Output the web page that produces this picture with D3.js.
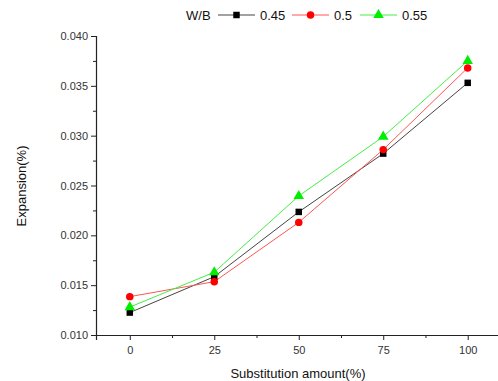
<!DOCTYPE html>
<html>
<head>
<meta charset="utf-8">
<script src="https://cdn.jsdelivr.net/npm/d3@7"></script>
<style>
  body { margin: 0; background: #fff; }
  svg { display: block; font-family: Arial, "Liberation Sans", sans-serif; }
</style>
</head>
<body>
<script>
// chart data
const substitution = [0, 25, 50, 75, 100];
const seriesNames = ['0.45', '0.5', '0.55'];
const wb045 = [0.01225, 0.01585, 0.02235, 0.0282, 0.0353];
const wb050 = [0.01385, 0.01535, 0.02130, 0.0286, 0.0368];
const wb055 = [0.01280, 0.01630, 0.02395, 0.0299, 0.0375];
const xTicks = [0, 25, 50, 75, 100];
const yTicks = [0.010, 0.015, 0.020, 0.025, 0.030, 0.035, 0.040];

const W = 498, H = 381;
const svg = d3.select('body').append('svg').attr('width', W).attr('height', H);

const x = d3.scaleLinear().domain([-10, 110]).range([96, 501.5]);
const y = d3.scaleLinear().domain([0.010, 0.040]).range([335, 36]);

// axes
const xAxis = d3.axisBottom(x).tickValues(xTicks).tickSize(5).tickPadding(6).tickFormat(d3.format('d'));
const xMinor = d3.axisBottom(x).tickValues([12.5, 37.5, 62.5, 87.5]).tickSize(3).tickFormat('');
const yAxis = d3.axisLeft(y).tickValues(yTicks).tickSize(5).tickPadding(3).tickFormat(d3.format('.3f'));
const yMinor = d3.axisLeft(y).tickValues([0.0125, 0.0175, 0.0225, 0.0275, 0.0325, 0.0375]).tickSize(3).tickFormat('');

function style(g) {
  g.select('.domain').attr('stroke', '#222').attr('stroke-width', 1.2);
  g.selectAll('.tick line').attr('stroke', '#222');
  g.selectAll('.tick text').attr('fill', '#333').style('font-size', '11px');
}

svg.append('g').attr('transform', 'translate(0,335)').call(xAxis).call(style);
svg.append('g').attr('transform', 'translate(0,335)').call(xMinor).call(g => g.select('.domain').remove()).call(style);
svg.append('g').attr('transform', 'translate(96,0)').call(yAxis).call(style);
svg.append('g').attr('transform', 'translate(96,0)').call(yMinor).call(g => g.select('.domain').remove()).call(style);

// axis titles
svg.append('text')
  .attr('x', 298).attr('y', 378)
  .attr('text-anchor', 'middle')
  .style('font-size', '13px').attr('fill', '#111')
  .text('Substitution amount(%)');
svg.append('text')
  .attr('transform', 'translate(26,186) rotate(-90)')
  .attr('text-anchor', 'middle')
  .style('font-size', '13px').attr('fill', '#111')
  .text('Expansion(%)');

const series = [
  { name: seriesNames[0], values: wb045, line: '#444', fill: '#000', shape: d3.symbolSquare, size: 42 },
  { name: seriesNames[1], values: wb050, line: '#ff5555', fill: '#ff0000', shape: d3.symbolCircle, size: 44 },
  { name: seriesNames[2], values: wb055, line: '#44ee44', fill: '#00ee00', shape: d3.symbolTriangle, size: 48 }
];

const line = d3.line().x((d, i) => x(substitution[i])).y(d => y(d));

series.forEach(s => {
  svg.append('path')
    .datum(s.values)
    .attr('d', line)
    .attr('fill', 'none')
    .attr('stroke', s.line)
    .attr('stroke-width', 1);
});
series.forEach(s => {
  svg.append('g').selectAll('path')
    .data(s.values)
    .enter().append('path')
    .attr('d', d3.symbol().type(s.shape).size(s.size))
    .attr('transform', (d, i) => 'translate(' + x(substitution[i]) + ',' + y(d) + ')')
    .attr('fill', s.fill);
});

// legend
const legend = svg.append('g').attr('transform', 'translate(0,15)');
legend.append('text').attr('x', 186).attr('y', 5).style('font-size', '13px').attr('fill', '#111').text('W/B');
const legendX = [218, 292, 360];
series.forEach((s, i) => {
  const lx = legendX[i];
  legend.append('line').attr('x1', lx).attr('x2', lx + 37).attr('y1', 0).attr('y2', 0)
    .attr('stroke', s.line).attr('stroke-width', 1);
  legend.append('path')
    .attr('d', d3.symbol().type(s.shape).size(s.size))
    .attr('transform', 'translate(' + (lx + 18.5) + ',0)')
    .attr('fill', s.fill);
  legend.append('text').attr('x', lx + 42).attr('y', 5)
    .style('font-size', '13px').attr('fill', '#111').text(s.name);
});
</script>
</body>
</html>
